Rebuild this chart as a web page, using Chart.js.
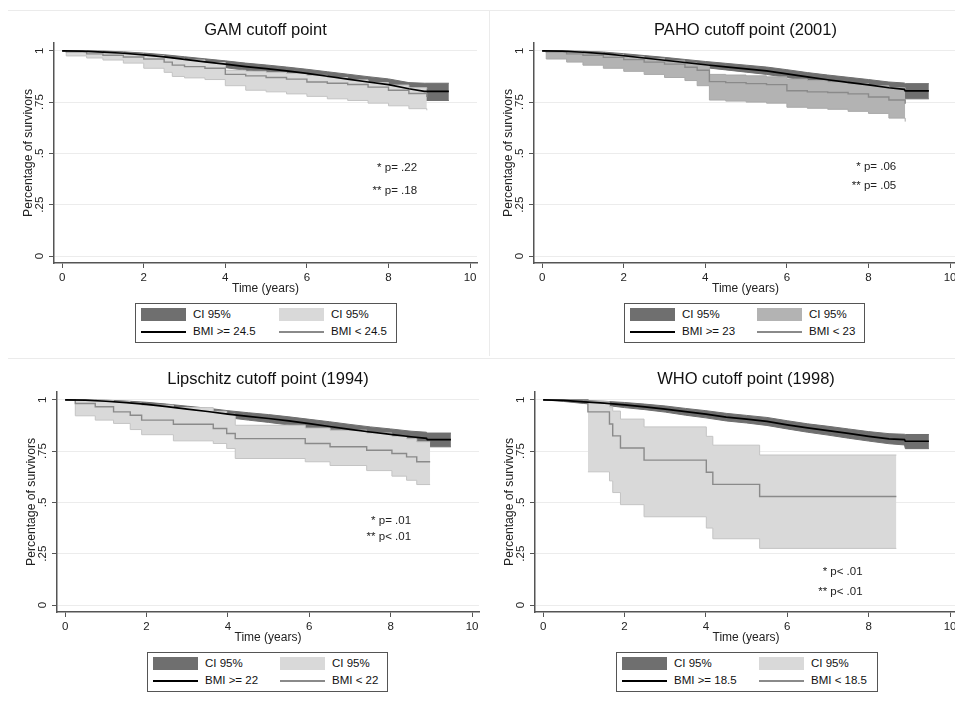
<!DOCTYPE html>
<html>
<head>
<meta charset="utf-8">
<script src="https://cdn.jsdelivr.net/npm/chart.js@4.4.1/dist/chart.umd.min.js"></script>
<style>
  body { margin: 0; width: 955px; height: 704px; overflow: hidden; background: #fff; position: relative;
         font-family: "Liberation Sans", Arial, sans-serif; }
  canvas { position: absolute; }
  .sep { position: absolute; background: #ebebeb; }
  .legend { position: absolute; height: 38px; border: 1px solid #555; background: #fff; }
  .legend div { position: absolute; }
  .legend span { position: absolute; font-size: 11.5px; color: #111; line-height: 14px; white-space: nowrap; }
</style>
</head>
<body>
<div class="sep" style="left:8px; top:10px; width:947px; height:1px"></div>
<div class="sep" style="left:489px; top:10px; width:1px; height:346px"></div>
<div class="sep" style="left:8px; top:358px; width:947px; height:1px"></div>

<canvas id="gam" width="485" height="288" style="left:0; top:10px"></canvas>
<canvas id="paho" width="480" height="288" style="left:480px; top:10px"></canvas>
<canvas id="lip" width="484" height="288" style="left:3px; top:359px"></canvas>
<canvas id="who" width="479" height="288" style="left:481px; top:359px"></canvas>

<script>
// axis ticks
const xTickVals = [0, 2, 4, 6, 8, 10];
const yTickVals = [0, 0.25, 0.5, 0.75, 1];
const yTickLabels = ['0', '.25', '.5', '.75', '1'];

// time grid for the large (BMI >= cutoff) groups
const hiT = [0, 0.5, 1, 1.5, 2, 2.5, 3, 3.5, 4, 4.5, 5, 5.5, 6, 6.5, 7, 7.5, 8, 8.5, 8.88, 8.9, 9.48];

// GAM cutoff point
const gamHiS  = [1, 0.998, 0.994, 0.988, 0.98, 0.97, 0.958, 0.946, 0.935, 0.923, 0.913, 0.902, 0.89, 0.876, 0.862, 0.848, 0.835, 0.815, 0.802, 0.802, 0.802];
const gamHiUp = [1, 1, 0.999, 0.995, 0.989, 0.981, 0.971, 0.961, 0.951, 0.94, 0.931, 0.921, 0.91, 0.898, 0.886, 0.874, 0.863, 0.845, 0.842, 0.842, 0.842];
const gamHiLo = [1, 0.994, 0.988, 0.98, 0.97, 0.958, 0.945, 0.931, 0.918, 0.905, 0.895, 0.884, 0.871, 0.856, 0.842, 0.828, 0.815, 0.8, 0.79, 0.758, 0.758];
const gamLoT  = [0, 0.1, 0.6, 1.0, 1.5, 2.0, 2.5, 2.7, 3.0, 3.5, 4.0, 4.5, 5.0, 5.5, 6.0, 6.5, 7.0, 7.5, 8.0, 8.5, 8.94];
const gamLoS  = [1, 0.995, 0.985, 0.978, 0.97, 0.96, 0.945, 0.93, 0.923, 0.915, 0.885, 0.878, 0.87, 0.862, 0.848, 0.842, 0.836, 0.823, 0.808, 0.792, 0.775];
const gamLoUp = [1, 1, 0.995, 0.99, 0.984, 0.976, 0.966, 0.962, 0.955, 0.943, 0.905, 0.9, 0.895, 0.89, 0.88, 0.87, 0.858, 0.845, 0.833, 0.82, 0.815];
const gamLoLo = [1, 0.975, 0.965, 0.955, 0.94, 0.915, 0.895, 0.875, 0.868, 0.86, 0.83, 0.808, 0.8, 0.79, 0.778, 0.766, 0.758, 0.745, 0.732, 0.718, 0.71];
const gamNotes = ['* p= .22', '** p= .18'];
const gamLegend = ['CI 95%', 'CI 95%', 'BMI >= 24.5', 'BMI < 24.5'];

// PAHO cutoff point (2001)
const pahoHiS  = [1, 0.998, 0.993, 0.986, 0.976, 0.965, 0.954, 0.943, 0.932, 0.922, 0.912, 0.902, 0.888, 0.873, 0.859, 0.846, 0.834, 0.82, 0.812, 0.805, 0.805];
const pahoHiUp = [1, 1, 0.998, 0.994, 0.986, 0.977, 0.968, 0.958, 0.948, 0.939, 0.93, 0.921, 0.908, 0.894, 0.882, 0.871, 0.86, 0.848, 0.843, 0.84, 0.84];
const pahoHiLo = [1, 0.993, 0.987, 0.978, 0.967, 0.954, 0.942, 0.93, 0.918, 0.907, 0.896, 0.885, 0.87, 0.854, 0.839, 0.825, 0.812, 0.797, 0.79, 0.766, 0.766];
const pahoLoT  = [0, 0.1, 0.6, 1.0, 1.5, 2.0, 2.5, 3.0, 3.5, 3.8, 4.1, 4.5, 5.0, 5.5, 6.0, 6.5, 7.0, 7.5, 8.0, 8.5, 8.9];
const pahoLoS  = [1, 0.995, 0.985, 0.978, 0.968, 0.957, 0.945, 0.935, 0.92, 0.905, 0.85, 0.845, 0.84, 0.835, 0.805, 0.8, 0.797, 0.79, 0.775, 0.76, 0.742];
const pahoLoUp = [1, 1, 0.995, 0.99, 0.982, 0.972, 0.962, 0.951, 0.94, 0.932, 0.885, 0.882, 0.878, 0.873, 0.862, 0.855, 0.848, 0.84, 0.83, 0.82, 0.8];
const pahoLoLo = [1, 0.96, 0.945, 0.93, 0.915, 0.9, 0.885, 0.87, 0.855, 0.83, 0.76, 0.755, 0.75, 0.745, 0.725, 0.72, 0.715, 0.705, 0.695, 0.672, 0.655];
const pahoNotes = ['* p= .06', '** p= .05'];
const pahoLegend = ['CI 95%', 'CI 95%', 'BMI >= 23', 'BMI < 23'];

// Lipschitz cutoff point (1994)
const lipHiS  = [1, 0.998, 0.993, 0.986, 0.978, 0.967, 0.955, 0.943, 0.93, 0.919, 0.909, 0.897, 0.884, 0.87, 0.856, 0.843, 0.832, 0.82, 0.812, 0.806, 0.806];
const lipHiUp = [1, 1, 0.998, 0.994, 0.988, 0.979, 0.969, 0.959, 0.947, 0.937, 0.928, 0.917, 0.905, 0.893, 0.88, 0.868, 0.858, 0.847, 0.842, 0.838, 0.838];
const lipHiLo = [1, 0.992, 0.986, 0.978, 0.968, 0.955, 0.941, 0.927, 0.913, 0.901, 0.89, 0.877, 0.863, 0.848, 0.833, 0.819, 0.807, 0.794, 0.788, 0.771, 0.771];
const lipLoT  = [0, 0.25, 0.74, 1.19, 1.6, 1.88, 2.66, 3.64, 3.97, 4.18, 5.9, 6.51, 7.41, 8.03, 8.39, 8.64, 8.97];
const lipLoS  = [1, 0.982, 0.966, 0.941, 0.925, 0.901, 0.881, 0.86, 0.836, 0.811, 0.787, 0.771, 0.754, 0.738, 0.722, 0.698, 0.698];
const lipLoUp = [1, 1, 0.997, 0.99, 0.984, 0.974, 0.962, 0.944, 0.93, 0.876, 0.862, 0.852, 0.838, 0.822, 0.81, 0.795, 0.795];
const lipLoLo = [1, 0.922, 0.901, 0.885, 0.855, 0.83, 0.8, 0.787, 0.763, 0.714, 0.698, 0.68, 0.655, 0.628, 0.608, 0.587, 0.587];
const lipNotes = ['* p= .01', '** p< .01'];
const lipLegend = ['CI 95%', 'CI 95%', 'BMI >= 22', 'BMI < 22'];

// WHO cutoff point (1998)
const whoHiS  = [1, 0.997, 0.99, 0.984, 0.975, 0.966, 0.955, 0.942, 0.93, 0.916, 0.906, 0.895, 0.878, 0.863, 0.85, 0.836, 0.822, 0.81, 0.806, 0.798, 0.798];
const whoHiUp = [1, 1, 0.996, 0.993, 0.987, 0.979, 0.97, 0.958, 0.947, 0.934, 0.924, 0.914, 0.898, 0.883, 0.871, 0.858, 0.845, 0.835, 0.832, 0.831, 0.831];
const whoHiLo = [1, 0.992, 0.982, 0.974, 0.962, 0.952, 0.94, 0.925, 0.912, 0.897, 0.887, 0.875, 0.858, 0.842, 0.828, 0.813, 0.799, 0.786, 0.78, 0.762, 0.762];
const whoLoT  = [0, 1.10, 1.63, 1.71, 1.90, 2.48, 4.01, 4.17, 5.32, 8.68];
const whoLoS  = [1, 0.941, 0.882, 0.824, 0.765, 0.706, 0.647, 0.588, 0.529, 0.529];
const whoBandT = [1.10, 1.63, 1.71, 1.90, 2.48, 4.01, 4.17, 5.32, 8.68];
const whoLoUp = [0.99, 0.965, 0.945, 0.906, 0.868, 0.822, 0.779, 0.731, 0.731];
const whoLoLo = [0.649, 0.605, 0.548, 0.489, 0.43, 0.375, 0.323, 0.276, 0.276];
const whoNotes = ['* p< .01', '** p< .01'];
const whoLegend = ['CI 95%', 'CI 95%', 'BMI >= 18.5', 'BMI < 18.5'];

const FONT = '"Liberation Sans", Arial, sans-serif';
const DARK = '#6f6f6f';
const AXIS = '#555';
const GRID = '#ececec';

// rotated y tick labels (Stata style) and p-value notes
const extras = {
  id: 'extras',
  afterDraw(chart, args, opts) {
    const ctx = chart.ctx, y = chart.scales.y, x = chart.scales.x;
    ctx.save();
    ctx.fillStyle = '#222';
    ctx.font = '11.5px ' + FONT;
    ctx.textAlign = 'center';
    ctx.textBaseline = 'middle';
    yTickVals.forEach((v, i) => {
      ctx.save();
      ctx.translate(y.right - 14, y.getPixelForValue(v));
      ctx.rotate(-Math.PI / 2);
      ctx.fillText(yTickLabels[i], 0, 0);
      ctx.restore();
    });
    ctx.textAlign = 'right';
    opts.notes.forEach((n, i) => {
      ctx.fillText(n, x.getPixelForValue(opts.noteX), y.getPixelForValue(opts.noteY[i]));
    });
    ctx.restore();
  }
};

function pts(t, v) { return t.map((x, i) => ({ x: x, y: v[i] })); }

function makeChart(id, p) {
  new Chart(document.getElementById(id), {
    type: 'line',
    data: {
      datasets: [
        { data: pts(hiT, p.hiUp), fill: '+1', backgroundColor: DARK, borderColor: DARK, borderWidth: 1, order: 5 },
        { data: pts(hiT, p.hiLo), fill: false, borderColor: DARK, borderWidth: 1, order: 4.5 },
        { data: pts(p.bandT, p.loUp), fill: '+1', backgroundColor: p.light, borderColor: p.edge, borderWidth: 1, stepped: 'before', order: 3 },
        { data: pts(p.bandT, p.loLo), fill: false, borderColor: p.edge, borderWidth: 1, stepped: 'before', order: 2.5 },
        { data: pts(hiT, p.hiS), fill: false, borderColor: '#000', borderWidth: 1.7, order: 0 },
        { data: pts(p.loT, p.loS), fill: false, borderColor: '#8a8a8a', borderWidth: 1.4, stepped: 'before', order: 1 }
      ]
    },
    options: {
      responsive: false,
      animation: false,
      elements: { point: { radius: 0 }, line: { tension: 0 } },
      layout: { padding: { left: 0, right: p.padRight, top: 0, bottom: 0 } },
      plugins: {
        legend: { display: false },
        tooltip: { enabled: false },
        title: {
          display: true, text: p.title, fullSize: false, color: '#111',
          font: { size: 16.5, family: FONT, weight: 'normal' },
          padding: { top: 11, bottom: 2 }
        },
        extras: { notes: p.notes, noteX: p.noteX, noteY: p.noteY }
      },
      scales: {
        x: {
          type: 'linear', min: -0.2, max: 10.17,
          afterBuildTicks: s => { s.ticks = xTickVals.map(v => ({ value: v })); },
          afterFit: s => { s.height = 35; },
          grid: { drawOnChartArea: false, drawTicks: true, tickLength: 5, tickColor: AXIS },
          border: { color: AXIS, width: 1.5 },
          ticks: { color: '#222', font: { size: 11.5, family: FONT }, padding: 3, maxRotation: 0 },
          title: { display: true, text: 'Time (years)', color: '#222', font: { size: 12, family: FONT }, padding: { top: 0, bottom: 2 } }
        },
        y: {
          type: 'linear', min: -0.034, max: 1.039,
          afterBuildTicks: s => { s.ticks = yTickVals.map(v => ({ value: v })); },
          afterFit: s => { s.width = 54; },
          grid: { color: GRID, lineWidth: 1, drawTicks: true, tickLength: 5, tickColor: AXIS },
          border: { color: AXIS, width: 1.5 },
          ticks: { display: false },
          title: { display: true, text: 'Percentage of survivors', color: '#222', font: { size: 12.2, family: FONT }, padding: { top: 21, bottom: 0 } }
        }
      }
    },
    plugins: [extras]
  });
}

function esc(s) { return s.replace(/</g, '&lt;').replace(/>/g, '&gt;'); }

function makeLegend(left, top, width, col2, labels, light) {
  const box = document.createElement('div');
  box.className = 'legend';
  box.style.left = left + 'px';
  box.style.top = top + 'px';
  box.style.width = width + 'px';
  box.innerHTML =
    '<div style="left:5px; top:4px; width:45px; height:13px; background:' + DARK + '"></div>' +
    '<span style="left:57px; top:3px">' + esc(labels[0]) + '</span>' +
    '<div style="left:' + col2 + 'px; top:4px; width:45px; height:13px; background:' + light + '"></div>' +
    '<span style="left:' + (col2 + 52) + 'px; top:3px">' + esc(labels[1]) + '</span>' +
    '<div style="left:5px; top:27px; width:45px; height:2px; background:#000"></div>' +
    '<span style="left:57px; top:20px">' + esc(labels[2]) + '</span>' +
    '<div style="left:' + col2 + 'px; top:27px; width:45px; height:1.5px; background:#8a8a8a"></div>' +
    '<span style="left:' + (col2 + 52) + 'px; top:20px">' + esc(labels[3]) + '</span>';
  document.body.appendChild(box);
}

makeChart('gam', {
  title: 'GAM cutoff point', padRight: 8,
  hiS: gamHiS, hiUp: gamHiUp, hiLo: gamHiLo,
  loT: gamLoT, loS: gamLoS, bandT: gamLoT, loUp: gamLoUp, loLo: gamLoLo,
  light: '#d9d9d9', edge: '#c4c4c4',
  notes: gamNotes, noteX: 8.7, noteY: [0.429, 0.317]
});
makeChart('paho', {
  title: 'PAHO cutoff point (2001)', padRight: 3,
  hiS: pahoHiS, hiUp: pahoHiUp, hiLo: pahoHiLo,
  loT: pahoLoT, loS: pahoLoS, bandT: pahoLoT, loUp: pahoLoUp, loLo: pahoLoLo,
  light: '#b3b3b3', edge: '#a9a9a9',
  notes: pahoNotes, noteX: 8.68, noteY: [0.436, 0.341]
});
makeChart('lip', {
  title: 'Lipschitz cutoff point (1994)', padRight: 8,
  hiS: lipHiS, hiUp: lipHiUp, hiLo: lipHiLo,
  loT: lipLoT, loS: lipLoS, bandT: lipLoT, loUp: lipLoUp, loLo: lipLoLo,
  light: '#d9d9d9', edge: '#c4c4c4',
  notes: lipNotes, noteX: 8.5, noteY: [0.411, 0.33]
});
makeChart('who', {
  title: 'WHO cutoff point (1998)', padRight: 3,
  hiS: whoHiS, hiUp: whoHiUp, hiLo: whoHiLo,
  loT: whoLoT, loS: whoLoS, bandT: whoBandT, loUp: whoLoUp, loLo: whoLoLo,
  light: '#d9d9d9', edge: '#c4c4c4',
  notes: whoNotes, noteX: 7.85, noteY: [0.162, 0.065]
});

makeLegend(135, 303, 260, 143, gamLegend, '#d9d9d9');
makeLegend(624, 303, 239, 132, pahoLegend, '#b3b3b3');
makeLegend(147, 652, 239, 132, lipLegend, '#d9d9d9');
makeLegend(616, 652, 260, 142, whoLegend, '#d9d9d9');
</script>
</body>
</html>
